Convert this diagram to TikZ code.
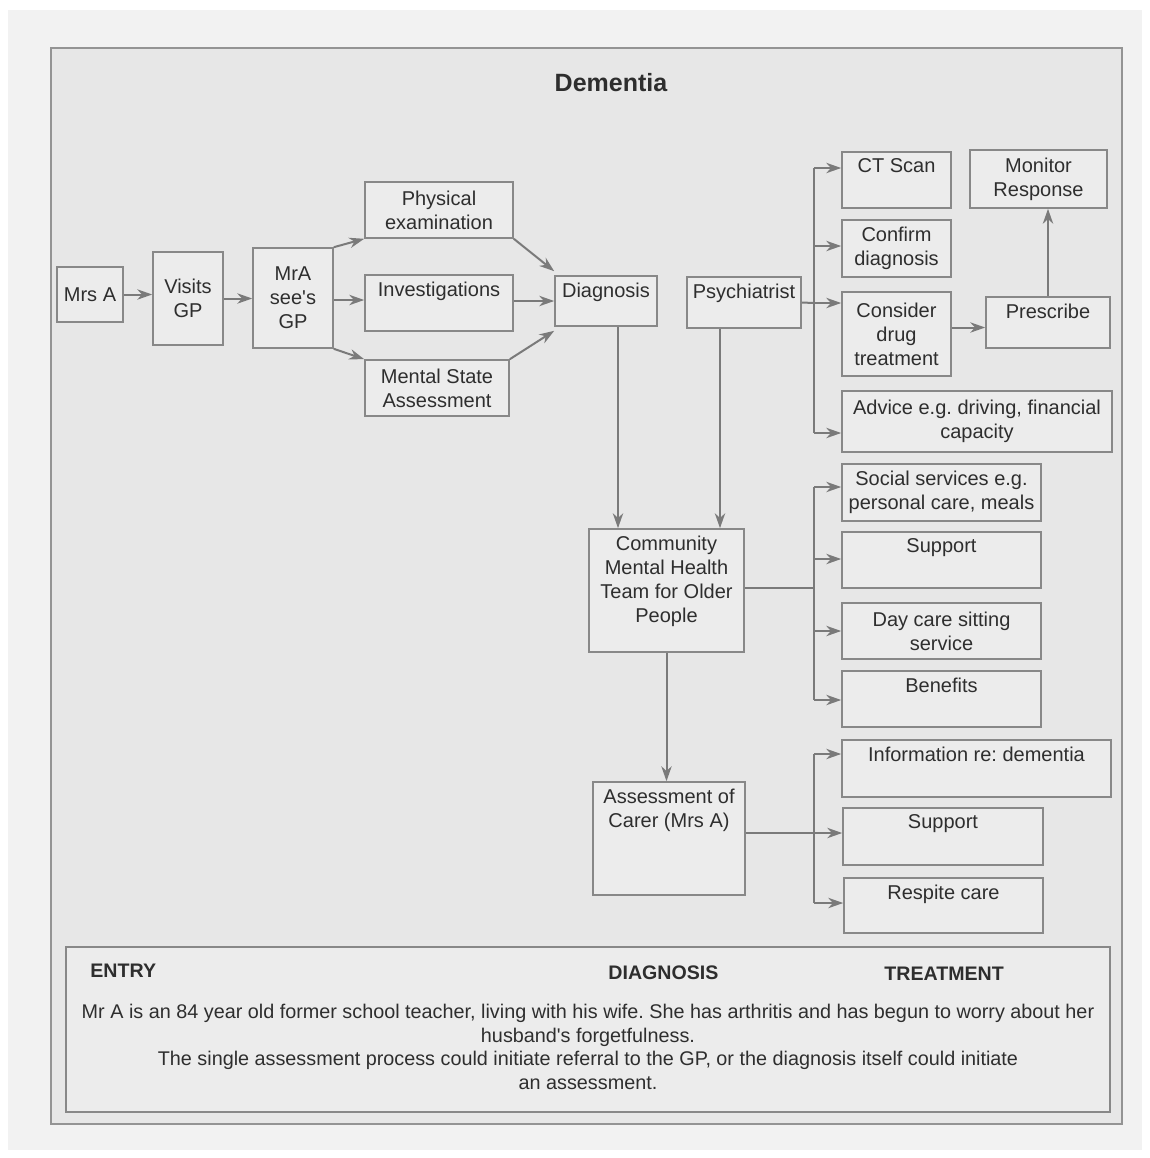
\documentclass[tikz,border=0pt]{standalone}
\usepackage{fontspec}
\setmainfont{Liberation Sans}
\usetikzlibrary{arrows.meta}
\definecolor{pagec}{HTML}{F2F2F2}
\definecolor{insidec}{HTML}{E7E7E7}
\definecolor{boxfill}{HTML}{ECECEC}
\definecolor{boxline}{HTML}{888888}
\definecolor{arrc}{HTML}{7A7A7A}
\definecolor{txtc}{HTML}{2E2E2E}
\tikzset{
  box/.style={draw=boxline, line width=0.8pt, fill=boxfill, inner sep=1pt,
    align=center, text=txtc, font=\fontsize{10}{12}\selectfont},
  lbl/.style={inner sep=0pt, align=center, text=txtc, font=\fontsize{10}{12}\selectfont},
  ln/.style={draw=arrc, line width=1pt},
  arr/.style={ln, -{Stealth[length=7.5pt,width=5.2pt]}},
}
\newcommand\cbox[6]{%
  \pgfmathsetmacro\bw{(#4-#2)*0.5}%
  \pgfmathsetmacro\bh{(#5-#3)*0.5}%
  \node[box, minimum width=\bw pt, minimum height=\bh pt] (#1) at ({(#2+#4)/2},{(#3+#5)/2}) {#6};}
\newcommand\tbox[6]{%
  \pgfmathsetmacro\bw{(#4-#2)*0.5}%
  \pgfmathsetmacro\bh{(#5-#3)*0.5}%
  \node[box, minimum width=\bw pt, minimum height=\bh pt] (#1) at ({(#2+#4)/2},{(#3+#5)/2}) {};
  \node[lbl, anchor=north] (#1-t) at ([yshift=-3.6pt]#1.north) {#6};}
\frenchspacing
\begin{document}
\begin{tikzpicture}[x=0.5pt,y=-0.5pt]
\useasboundingbox (0,0) rectangle (1150,1158);
\fill[white] (0,0) rectangle (1150,1158);
\fill[pagec] (8,10) rectangle (1142,1150);
\draw[fill=insidec, draw=boxline!90, line width=1.1pt] (51,48) rectangle (1122,1124);

\node[text=txtc, font=\bfseries\fontsize{12.5}{14}\selectfont] (title) at (611,83) {Dementia};

% entry / GP
\cbox{mrsa}{57}{267}{123}{322}{Mrs A}
\cbox{visits}{153}{252}{223}{345}{Visits\\GP}
\cbox{mra}{253}{248}{333}{348}{MrA\\see\textquotesingle s\\GP}
\cbox{phys}{365}{182}{513}{238}{Physical\\examination}
\tbox{inv}{365}{275}{513}{331}{Investigations}
\cbox{ment}{365}{360}{509}{416}{Mental State\\Assessment}
\tbox{diag}{555}{276}{657}{326}{Diagnosis}
\tbox{psych}{687}{277}{801}{328}{Psychiatrist}

% psychiatrist branch
\tbox{ct}{842}{152}{951}{208}{CT Scan}
\cbox{conf}{842}{220}{951}{277}{Confirm\\diagnosis}
\cbox{cons}{842}{292}{951}{376}{Consider\\drug\\treatment}
\cbox{mon}{970}{150}{1107}{208}{Monitor\\Response}
\tbox{presc}{986}{297}{1110}{348}{Prescribe}
\cbox{adv}{842}{391}{1112}{452}{Advice e.g. driving, financial\\capacity}

% community team
\tbox{cmht}{589}{529}{744}{652}{Community\\Mental Health\\Team for Older\\People}
\cbox{soc}{842}{464}{1041}{521}{Social services e.g.\\personal care, meals}
\tbox{sup}{842}{532}{1041}{588}{Support}
\cbox{day}{842}{603}{1041}{659}{Day care sitting\\service}
\tbox{ben}{842}{671}{1041}{727}{Benefits}

% carer
\tbox{assess}{593}{782}{745}{895}{Assessment of\\Carer (Mrs A)}
\tbox{info}{842}{740}{1111}{797}{Information re: dementia}
\tbox{suptwo}{843}{808}{1043}{865}{Support}
\tbox{resp}{844}{878}{1043}{933}{Respite care}

% connectors: entry
\draw[arr] (mrsa.east) -- (mrsa.east -| visits.west);
\draw[arr] (visits.east) -- (visits.east -| mra.west);
\draw[arr] (mra.north east) -- (phys.south west);
\draw[arr] ([yshift=-1pt]mra.east) -- ([yshift=-1pt]mra.east -| inv.west);
\draw[arr] (mra.south east) -- (ment.north west);
\draw[arr] (phys.south east) -- ([yshift=2pt]diag.north west);
\draw[arr] (diag.west -| inv.east) -- (diag.west);
\draw[arr] (ment.north east) -- ([yshift=-2pt]diag.south west);

% diagnosis / psychiatrist down to CMHT
\draw[arr] ([xshift=6pt]diag.south) -- ([xshift=6pt]diag.south |- cmht.north);
\draw[arr] ([xshift=-12pt]psych.south) -- ([xshift=-12pt]psych.south |- cmht.north);

% psychiatrist branch
\coordinate (jct) at (814,168);
\coordinate (jconf) at (814,246);
\coordinate (jcons) at (814,303);
\coordinate (jadv) at (814,433);
\draw[ln] (jct) -- (jadv);
\draw[ln] (psych.east) -- (jcons);
\draw[arr] (jct) -- (jct -| ct.west);
\draw[arr] (jconf) -- (jconf -| conf.west);
\draw[arr] (jcons) -- (jcons -| cons.west);
\draw[arr] (jadv) -- (jadv -| adv.west);
\draw[arr] ([yshift=-2.5pt]presc.west -| cons.east) -- ([yshift=-2.5pt]presc.west);
\draw[arr] (presc.north) -- (presc.north |- mon.south);

% CMHT branch
\coordinate (ksoc) at (814,487);
\coordinate (ksup) at (814,559);
\coordinate (kday) at (814,631);
\coordinate (kben) at (814,700);
\draw[ln] (ksoc) -- (kben);
\draw[ln] ([yshift=1.5pt]cmht.east) -- ([yshift=1.5pt]cmht.east -| ksoc);
\draw[arr] (ksoc) -- (ksoc -| soc.west);
\draw[arr] (ksup) -- (ksup -| sup.west);
\draw[arr] (kday) -- (kday -| day.west);
\draw[arr] (kben) -- (kben -| ben.west);
\draw[arr] (cmht.south) -- (cmht.south |- assess.north);

% carer branch
\coordinate (minfo) at (814,754);
\coordinate (msup) at (814,833);
\coordinate (mresp) at (814,903);
\draw[ln] (minfo) -- (mresp);
\draw[ln] (assess.east |- msup) -- (msup);
\draw[arr] (minfo) -- (minfo -| info.west);
\draw[arr] (msup) -- (msup -| suptwo.west);
\draw[arr] (mresp) -- (mresp -| resp.west);

% bottom text box
\node[draw=boxline, line width=0.8pt, fill=boxfill, minimum width=522pt, minimum height=82.5pt, inner sep=0pt] (note) at (588,1029.5) {};
\node[anchor=base west, text=txtc, inner sep=0pt, font=\bfseries\fontsize{9.8}{12}\selectfont] (entry) at (90,977) {ENTRY};
\node[anchor=base west, text=txtc, inner sep=0pt, font=\bfseries\fontsize{9.8}{12}\selectfont] (hdiag) at (608,979) {DIAGNOSIS};
\node[anchor=base west, text=txtc, inner sep=0pt, font=\bfseries\fontsize{9.8}{12}\selectfont] (htreat) at (884,980) {TREATMENT};
\node[text=txtc, inner sep=0pt, align=center, font=\fontsize{9.9}{11.75}\selectfont] (story) at (588,1047) {Mr A is an 84 year old former school teacher, living with his wife. She has arthritis and has begun to worry about her\\husband\textquotesingle s forgetfulness.\\The single assessment process could initiate referral to the GP, or the diagnosis itself could initiate\\an assessment.};
\end{tikzpicture}
\end{document}
